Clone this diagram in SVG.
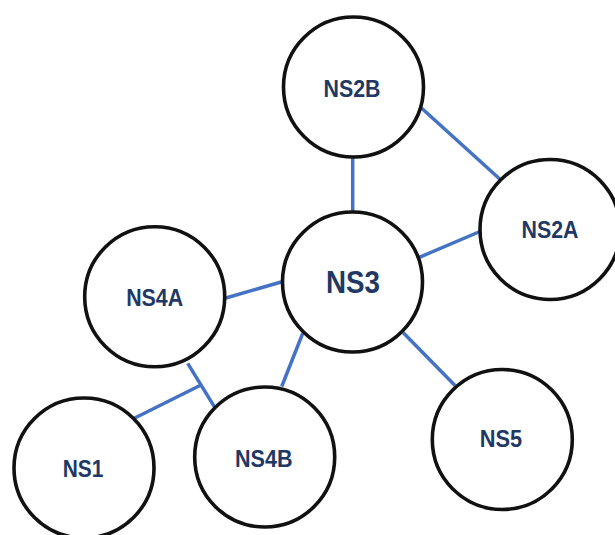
<svg xmlns="http://www.w3.org/2000/svg" width="615" height="535" viewBox="0 0 615 535">
<style>
.node circle{fill:#fff;stroke:#111;stroke-width:3.6}
.node text{font-family:"Liberation Sans",Arial,sans-serif;font-weight:bold;fill:#1F3864;text-anchor:middle}
.edges line{stroke:#4472C4;stroke-width:3.5;stroke-linecap:butt}
</style>
<rect width="615" height="535" fill="#fff"/>
<g class="edges" id="connectors">
<line x1="352.7" y1="157" x2="352.7" y2="211"/>
<line x1="421.7" y1="108.3" x2="500" y2="179.3"/>
<line x1="419.3" y1="257.3" x2="480" y2="231.5"/>
<line x1="225" y1="298.3" x2="282" y2="281.7"/>
<line x1="302.7" y1="333.3" x2="281.7" y2="386.5"/>
<line x1="403.3" y1="332.7" x2="455" y2="385.5"/>
<line x1="187.7" y1="363.3" x2="214.3" y2="406.7"/>
<line x1="134.3" y1="418.3" x2="201" y2="385"/>
</g>
<g class="node" id="NS2B"><circle cx="353.5" cy="87" r="70"/><text x="352" y="96.5" font-size="23.5" textLength="57" lengthAdjust="spacingAndGlyphs">NS2B</text></g>
<g class="node" id="NS2A"><circle cx="550" cy="229.5" r="70"/><text x="550" y="238.3" font-size="23.5" textLength="57" lengthAdjust="spacingAndGlyphs">NS2A</text></g>
<g class="node" id="NS3"><circle cx="352.5" cy="282" r="70"/><text x="353" y="293.3" font-size="32" textLength="54" lengthAdjust="spacingAndGlyphs">NS3</text></g>
<g class="node" id="NS4A"><circle cx="154.7" cy="296.7" r="70"/><text x="154.7" y="305.7" font-size="23.5" textLength="57" lengthAdjust="spacingAndGlyphs">NS4A</text></g>
<g class="node" id="NS4B"><circle cx="264.7" cy="457" r="70"/><text x="263.8" y="466.7" font-size="23.5" textLength="57.5" lengthAdjust="spacingAndGlyphs">NS4B</text></g>
<g class="node" id="NS1"><circle cx="84" cy="468" r="70"/><text x="83" y="477.3" font-size="23.5" textLength="40.7" lengthAdjust="spacingAndGlyphs">NS1</text></g>
<g class="node" id="NS5"><circle cx="502.3" cy="439.5" r="70"/><text x="501" y="447.3" font-size="24.5" textLength="42.3" lengthAdjust="spacingAndGlyphs">NS5</text></g>
</svg>
